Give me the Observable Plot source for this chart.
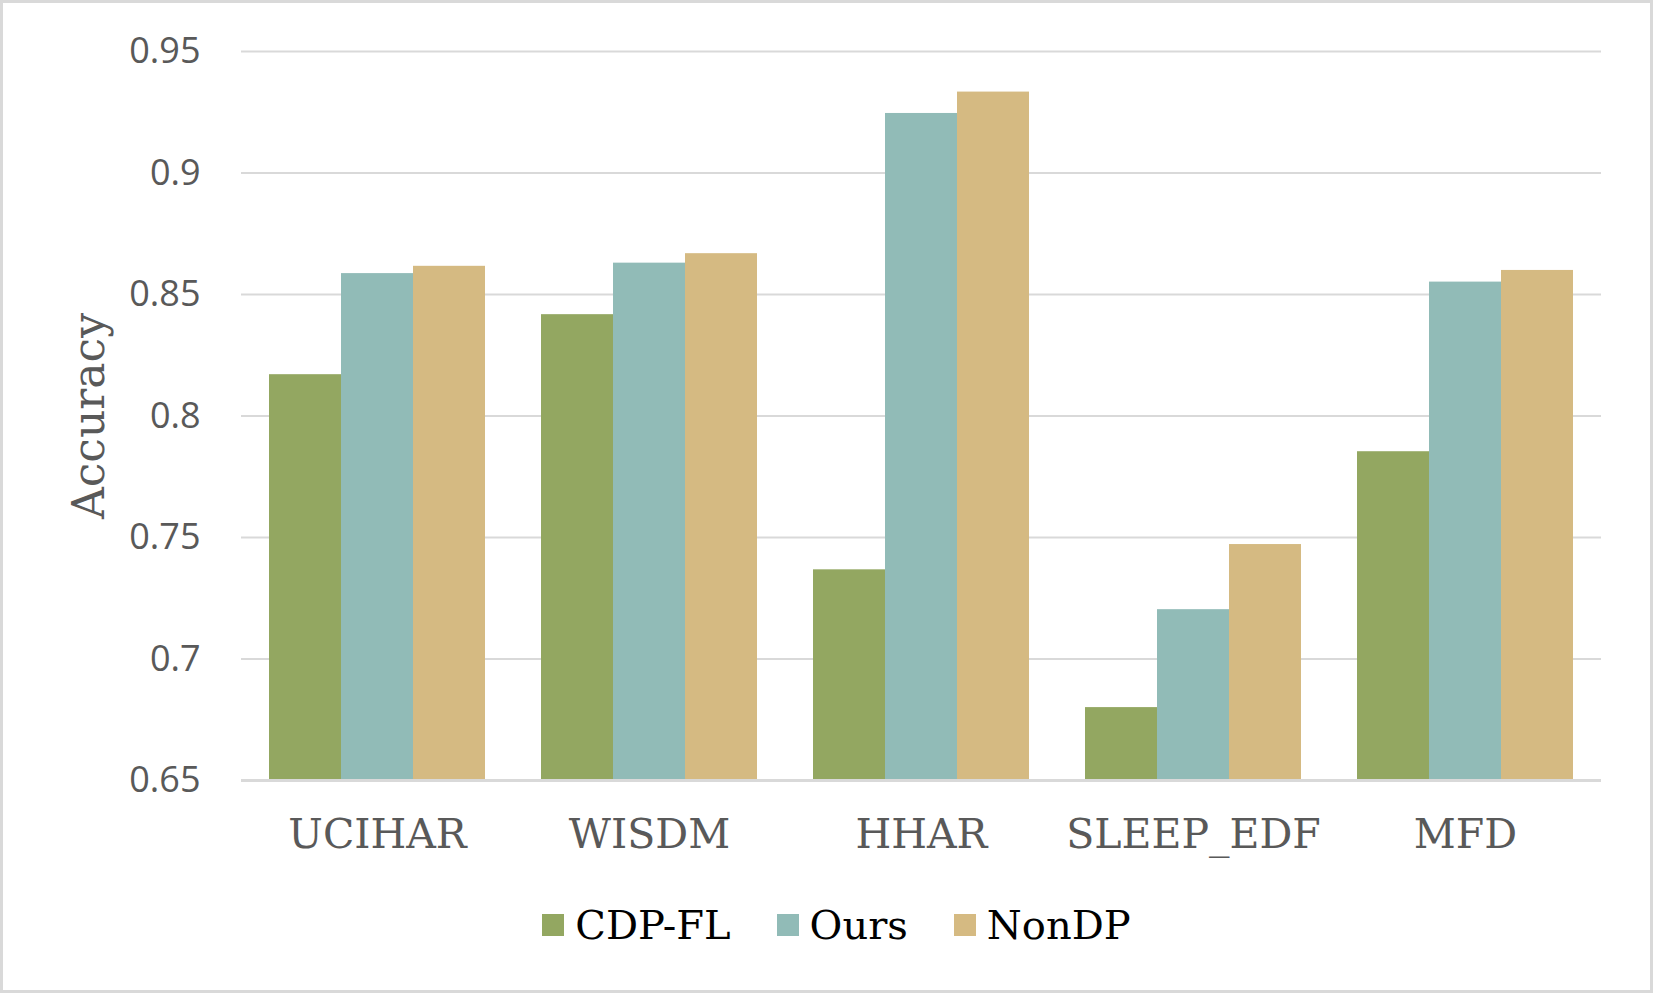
<!DOCTYPE html>
<html><head><meta charset="utf-8">
<script src="https://cdn.jsdelivr.net/npm/d3@7"></script>
<script src="https://cdn.jsdelivr.net/npm/@observablehq/plot@0.6"></script>
<style>
body{margin:0;background:#fff}
#wrap{position:relative;width:1653px;height:993px;overflow:hidden;background:#fff}
#border{position:absolute;left:0;top:0;width:1653px;height:993px;box-sizing:border-box;border:3px solid #d9d9d9;pointer-events:none}
#chart{position:absolute;left:0;top:0}
#legend{position:absolute;left:33px;top:902px;width:1653px;display:flex;justify-content:center}
#legend .lg{font-family:"DejaVu Serif" !important;font-size:40px !important;color:#595959 !important;margin:0 !important}
#legend .lg-swatch{font-family:"DejaVu Serif" !important;font-size:40px !important;margin-right:46px !important}
#legend .lg-swatch > svg{margin-right:11px !important}
</style></head><body>
<div id="wrap"><div id="chart"></div><div id="legend"></div><div id="border"></div></div>
<script>
const datasets = ["UCIHAR", "WISDM", "HHAR", "SLEEP_EDF", "MFD"];
const methods = ["CDP-FL", "Ours", "NonDP"];
const cdpfl = [0.817, 0.8417, 0.7367, 0.6800, 0.7853];
const ours  = [0.8586, 0.8629, 0.9245, 0.7203, 0.8551];
const nondp = [0.8616, 0.8668, 0.9333, 0.7471, 0.8599];
const colors = ["#93a761", "#91bbb7", "#d5ba82"];
const yTicks = [0.65, 0.7, 0.75, 0.8, 0.85, 0.9, 0.95];
const yTickLabels = ["0.65", "0.7", "0.75", "0.8", "0.85", "0.9", "0.95"];
const baseline = 0.65;

const series = [cdpfl, ours, nondp];
const rows = [];
datasets.forEach((d, i) => methods.forEach((m, j) => rows.push({dataset: d, method: m, value: series[j][i]})));

const chart = Plot.plot({
  width: 1653, height: 880,
  marginLeft: 239, marginRight: 51, marginTop: 51, marginBottom: 100,
  style: {background: "transparent", color: "#595959"},
  fx: {domain: datasets, padding: 0, label: null},
  x: {domain: methods, paddingInner: 0, paddingOuter: 0.38, axis: null},
  y: {domain: [0.65, 0.95]},
  color: {domain: methods, range: colors},
  marks: [
    Plot.gridY(yTicks, {stroke: "#d9d9d9", strokeOpacity: 1, strokeWidth: 2}),
    Plot.barY(rows, {fx: "dataset", x: "method", y1: baseline, y2: "value", fill: "method"}),
    Plot.ruleY([baseline], {stroke: "#d9d9d9", strokeOpacity: 1, strokeWidth: 3}),
    Plot.axisY(yTicks, {tickSize: 0, tickPadding: 41, tickFormat: d => yTickLabels[yTicks.indexOf(d)], fontFamily: "Open Sans", fontSize: 36, fill: "#595959", label: null}),
    Plot.axisY({ticks: [], tickSize: 0, label: "Accuracy", labelAnchor: "center", labelArrow: "none", labelOffset: 169, fontFamily: "DejaVu Serif", fontSize: 44, fill: "#595959"}),
    Plot.axisFx({anchor: "bottom", tickSize: 0, tickPadding: 38, fontFamily: "DejaVu Serif", fontSize: 41, fill: "#595959", label: null})
  ]
});
document.getElementById("chart").append(chart);

const legend = Plot.legend({
  color: {domain: methods, range: colors},
  legend: "swatches",
  swatchSize: 22,
  className: "lg"
});
document.getElementById("legend").append(legend);
</script>
</body></html>
